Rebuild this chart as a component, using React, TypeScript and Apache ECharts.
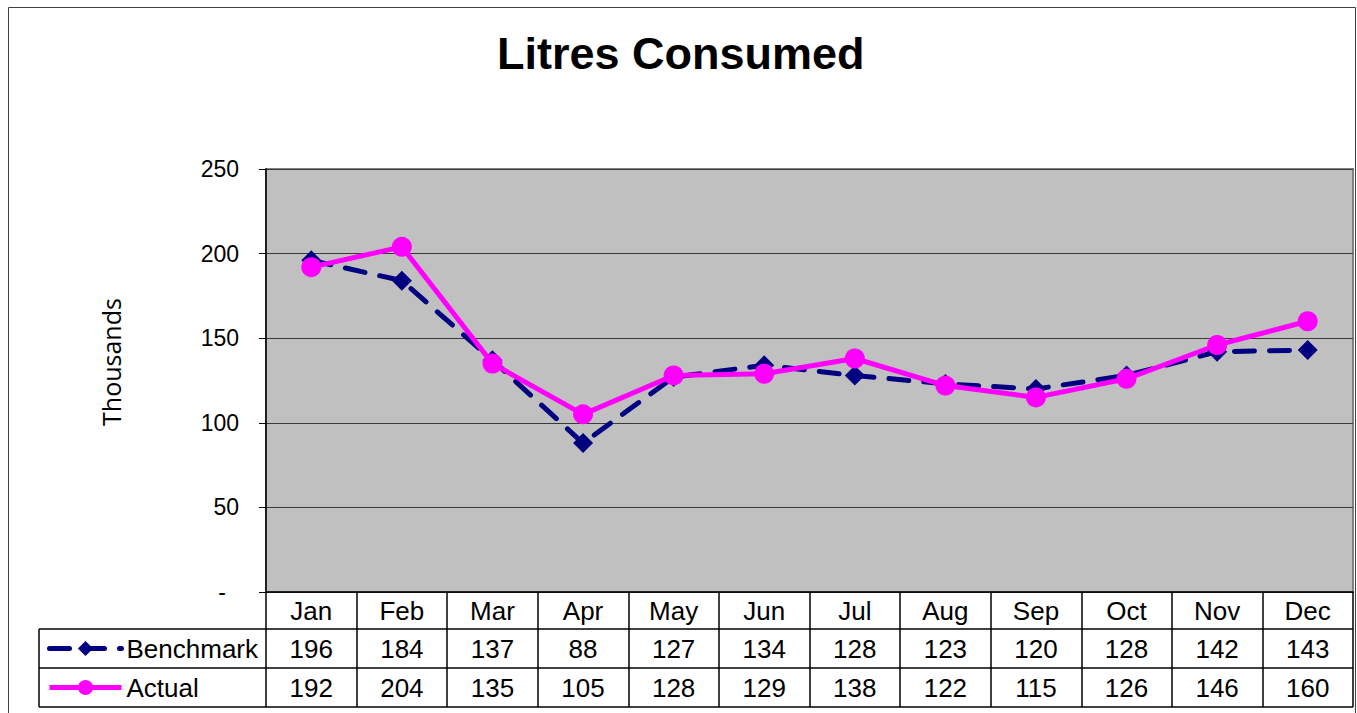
import React, { useEffect, useRef } from "react";
import * as echarts from "echarts";

const months = ["Jan", "Feb", "Mar", "Apr", "May", "Jun", "Jul", "Aug", "Sep", "Oct", "Nov", "Dec"];
const benchmark = [196, 184, 137, 88, 127, 134, 128, 123, 120, 128, 142, 143];
const actual = [192, 204, 135, 105, 128, 129, 138, 122, 115, 126, 146, 160];
const yTicks = { min: 0, max: 250, interval: 50 };

const FONT = "'Liberation Sans', Arial, sans-serif";

export default function App() {
  const ref = useRef<HTMLDivElement>(null);
  useEffect(() => {
    if (!ref.current) return;
    const chart = echarts.init(ref.current, undefined, { renderer: "svg" });
    const tableLeft = 39;
    const tableRight = 1353;
    chart.setOption({
      animation: false,
      backgroundColor: "#ffffff",
      title: {
        text: "Litres Consumed",
        left: 497,
        top: 31,
        padding: 0,
        textStyle: { fontFamily: FONT, fontSize: 45, fontWeight: "bold", color: "#000" },
      },
      legend: {
        orient: "vertical",
        left: 47,
        top: 635.5,
        padding: 0,
        itemWidth: 72,
        itemHeight: 19,
        itemGap: 13,
        lineStyle: { width: 5 },
        textStyle: { fontFamily: FONT, fontSize: 26, lineHeight: 26, color: "#000" },
        data: ["Benchmark", "Actual"],
      },
      grid: {
        left: 266,
        top: 169,
        right: 4,
        bottom: 121,
        show: true,
        backgroundColor: "#C0C0C0",
        borderColor: "#808080",
        borderWidth: 2,
      },
      xAxis: {
        type: "category",
        data: months,
        boundaryGap: true,
        axisLine: { show: true, lineStyle: { color: "#000", width: 1.5 } },
        axisTick: { show: true, interval: 0, length: 115, lineStyle: { color: "#000", width: 1.5 } },
        axisLabel: {
          interval: 0,
          margin: 0,
          formatter: (value: string, index: number) =>
            `{m|${value}}\n{v|${benchmark[index]}}\n{v|${actual[index]}}`,
          rich: {
            m: { fontFamily: FONT, fontSize: 26, lineHeight: 37, color: "#000" },
            v: { fontFamily: FONT, fontSize: 26, lineHeight: 39, color: "#000" },
          },
        },
      },
      yAxis: {
        type: "value",
        min: yTicks.min,
        max: yTicks.max,
        interval: yTicks.interval,
        axisLine: { show: true, lineStyle: { color: "#000", width: 1.5 } },
        axisTick: { show: true, length: 7, lineStyle: { color: "#000", width: 1 } },
        axisLabel: {
          margin: 27,
          fontFamily: FONT,
          fontSize: 23,
          color: "#000",
          formatter: (v: number) => (v === 0 ? "{d|-}" : String(v)),
          rich: { d: { fontFamily: FONT, fontSize: 23, color: "#000", padding: [0, 13, 0, 0] } },
        },
        splitLine: { show: true, lineStyle: { color: "#3a3a3a", width: 1 } },
      },
      series: [
        {
          name: "Benchmark",
          type: "line",
          data: benchmark,
          color: "#000080",
          symbol: "diamond",
          symbolSize: 20,
          lineStyle: { color: "#000080", width: 5, type: [20, 15], cap: "round" },
          itemStyle: { color: "#000080" },
        },
        {
          name: "Actual",
          type: "line",
          data: actual,
          color: "#FF00FF",
          symbol: "circle",
          symbolSize: 20,
          lineStyle: { color: "#FF00FF", width: 5 },
          itemStyle: { color: "#FF00FF" },
        },
      ],
      graphic: [
        {
          type: "rect",
          silent: true,
          shape: { x: 8.5, y: 7.5, width: 1347, height: 720 },
          style: { fill: "none", stroke: "#404040", lineWidth: 1 },
          z: 100,
        },
        {
          type: "text",
          x: 111,
          y: 362,
          rotation: Math.PI / 2,
          style: {
            text: "Thousands",
            fontFamily: "'Open Sans', 'Noto Sans', sans-serif",
            fontSize: 25,
            fill: "#000",
            align: "center",
            verticalAlign: "middle",
          },
        },
        {
          type: "line",
          silent: true,
          shape: { x1: tableLeft, y1: 629, x2: tableRight, y2: 629 },
          style: { stroke: "#000", lineWidth: 1.5 },
        },
        {
          type: "line",
          silent: true,
          shape: { x1: tableLeft, y1: 668, x2: tableRight, y2: 668 },
          style: { stroke: "#000", lineWidth: 1.5 },
        },
        {
          type: "line",
          silent: true,
          shape: { x1: tableLeft, y1: 707, x2: tableRight, y2: 707 },
          style: { stroke: "#000", lineWidth: 1.5 },
        },
        {
          type: "line",
          silent: true,
          shape: { x1: tableLeft, y1: 629, x2: tableLeft, y2: 707 },
          style: { stroke: "#000", lineWidth: 1.5 },
        },
      ],
    });
    return () => chart.dispose();
  }, []);
  return (
    <div
      ref={ref}
      style={{ position: "absolute", left: 0, top: 0, width: 1357, height: 713 }}
    />
  );
}
